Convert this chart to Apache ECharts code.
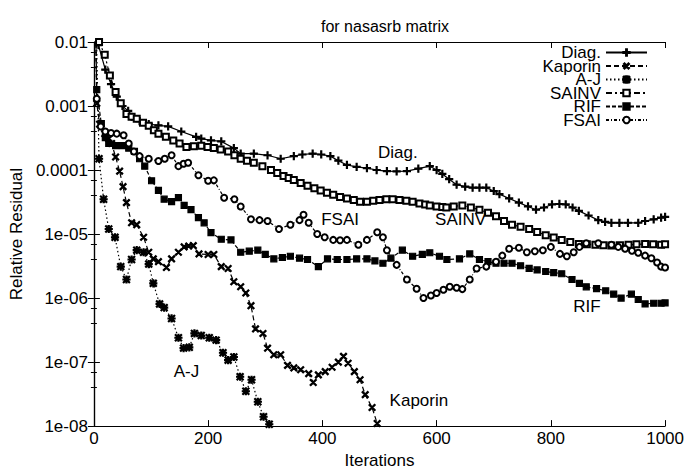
<!DOCTYPE html>
<html><head><meta charset="utf-8">
<script src="https://cdn.jsdelivr.net/npm/echarts/dist/echarts.min.js"></script>
<style>html,body{margin:0;padding:0;background:#fff}#c{width:687px;height:474px}</style>
</head><body><div id="c"></div>
<script>
// ---------- data ----------
const seriesNames = ['Diag.', 'Kaporin', 'A-J', 'SAINV', 'RIF', 'FSAI'];

const diagIter = [0, 8, 20, 30, 40, 50, 60, 66, 80, 96, 113, 130, 153, 179, 188, 205, 223, 245, 257, 280, 304, 327, 350, 365, 383, 398, 414, 428, 443, 460, 478, 495, 513, 530, 548, 568, 588, 600, 610, 622, 635, 650, 663, 675, 687, 700, 710, 727, 744, 760, 774, 788, 802, 815, 826, 838, 849, 866, 883, 895, 906, 920, 935, 953, 965, 980, 993, 1000];
const diagVal = [1, 8.9e-3, 3.7e-3, 2.2e-3, 1.4e-3, 1.0e-3, 8.4e-4, 6.8e-4, 5.8e-4, 5.2e-4, 5.0e-4, 4.8e-4, 4.0e-4, 3.3e-4, 3.1e-4, 2.9e-4, 2.8e-4, 2.2e-4, 1.8e-4, 1.8e-4, 1.7e-4, 1.5e-4, 1.65e-4, 1.75e-4, 1.8e-4, 1.75e-4, 1.65e-4, 1.4e-4, 1.2e-4, 1.12e-4, 1.07e-4, 1.0e-4, 9.6e-5, 9.5e-5, 9.6e-5, 1.05e-4, 1.15e-4, 1.0e-4, 8.7e-5, 7.2e-5, 5.9e-5, 5.5e-5, 5.3e-5, 5.3e-5, 5.3e-5, 4.7e-5, 4.2e-5, 3.6e-5, 3.1e-5, 2.7e-5, 2.4e-5, 2.6e-5, 2.9e-5, 2.95e-5, 2.9e-5, 2.6e-5, 2.3e-5, 1.95e-5, 1.65e-5, 1.55e-5, 1.5e-5, 1.5e-5, 1.5e-5, 1.5e-5, 1.6e-5, 1.7e-5, 1.8e-5, 1.85e-5];

const kapIter = [0, 5, 10, 19, 26, 31, 38, 45, 51, 57, 66, 75, 87, 96, 104, 113, 127, 136, 148, 158, 166, 174, 184, 200, 210, 223, 235, 245, 257, 266, 275, 283, 296, 304, 315, 327, 339, 350, 362, 376, 384, 393, 405, 417, 428, 437, 445, 456, 466, 475, 487, 496, 505];
const kapVal = [1, 1.1e-3, 5.2e-4, 3.7e-4, 3.1e-4, 2.6e-4, 1.6e-4, 9.6e-5, 5.5e-5, 3.1e-5, 1.5e-5, 1.4e-5, 8.9e-6, 5.2e-6, 4.1e-6, 3.7e-6, 3.0e-6, 4.1e-6, 5.2e-6, 6.3e-6, 6.5e-6, 6.6e-6, 4.9e-6, 4.8e-6, 4.8e-6, 3.1e-6, 2.9e-6, 1.8e-6, 1.5e-6, 1.2e-6, 7.6e-7, 3.3e-7, 2.8e-7, 1.65e-7, 1.3e-7, 1.3e-7, 8.9e-8, 8.1e-8, 7.6e-8, 6.6e-8, 4.8e-8, 6.3e-8, 7.1e-8, 8.3e-8, 1.0e-7, 1.23e-7, 9.6e-8, 7.1e-8, 5.3e-8, 3.1e-8, 1.95e-8, 1.1e-8, 6e-9];

const ajIter = [0, 9, 17, 26, 37, 47, 57, 66, 75, 87, 96, 104, 115, 123, 136, 148, 157, 167, 176, 188, 202, 214, 226, 235, 245, 256, 266, 276, 287, 297, 307, 317];
const ajVal = [1, 1.5e-4, 3.5e-5, 1.2e-5, 8.9e-6, 3.1e-6, 1.95e-6, 4.0e-6, 5.6e-6, 5.2e-6, 3.4e-6, 1.7e-6, 8.1e-7, 7.1e-7, 4.8e-7, 2.4e-7, 1.65e-7, 1.7e-7, 2.8e-7, 2.6e-7, 2.4e-7, 2.2e-7, 1.4e-7, 1.07e-7, 1.2e-7, 5.9e-8, 3.5e-8, 5.3e-8, 2.4e-8, 1.4e-8, 1.07e-8, 6e-9];

const sainvIter = [0, 9, 19, 28, 38, 47, 57, 66, 75, 86, 96, 105, 113, 126, 139, 150, 162, 175, 188, 199, 210, 222, 235, 246, 257, 268, 280, 295, 310, 321, 332, 341, 350, 362, 374, 386, 397, 408, 419, 431, 443, 455, 466, 478, 489, 500, 512, 523, 535, 547, 558, 570, 580, 588, 600, 610, 617, 630, 645, 660, 675, 690, 704, 718, 732, 747, 762, 776, 791, 805, 819, 834, 849, 863, 878, 892, 906, 921, 936, 950, 965, 979, 993, 1000];
const sainvVal = [1, 1.0e-2, 6.3e-3, 3.0e-3, 1.65e-3, 1.1e-3, 7.5e-4, 6.8e-4, 6.3e-4, 5.5e-4, 4.9e-4, 4.2e-4, 3.7e-4, 3.3e-4, 2.9e-4, 2.6e-4, 2.3e-4, 2.35e-4, 2.4e-4, 2.3e-4, 2.2e-4, 2.1e-4, 1.95e-4, 1.7e-4, 1.5e-4, 1.4e-4, 1.3e-4, 1.15e-4, 1.0e-4, 9.0e-5, 8.1e-5, 7.5e-5, 7.0e-5, 6.3e-5, 5.7e-5, 5.2e-5, 4.8e-5, 4.4e-5, 4.1e-5, 3.8e-5, 3.6e-5, 3.4e-5, 3.2e-5, 3.2e-5, 3.3e-5, 3.4e-5, 3.5e-5, 3.5e-5, 3.4e-5, 3.3e-5, 3.2e-5, 3.0e-5, 2.9e-5, 2.8e-5, 2.7e-5, 2.65e-5, 2.6e-5, 2.7e-5, 2.8e-5, 2.6e-5, 2.4e-5, 2.15e-5, 1.9e-5, 1.6e-5, 1.4e-5, 1.3e-5, 1.2e-5, 1.08e-5, 9.6e-6, 8.8e-6, 8.1e-6, 7.5e-6, 7.0e-6, 6.9e-6, 6.8e-6, 6.7e-6, 6.6e-6, 6.7e-6, 6.8e-6, 6.9e-6, 7.0e-6, 6.9e-6, 6.8e-6, 6.9e-6];

const rifIter = [0, 5, 13, 20, 26, 38, 50, 61, 71, 80, 89, 101, 113, 123, 136, 148, 158, 170, 183, 193, 205, 223, 240, 257, 272, 287, 300, 315, 330, 344, 360, 374, 393, 409, 426, 443, 460, 478, 492, 506, 520, 540, 558, 575, 588, 605, 618, 640, 658, 675, 690, 704, 718, 732, 747, 762, 776, 791, 805, 819, 837, 850, 862, 880, 896, 910, 923, 941, 953, 965, 980, 993, 1000];
const rifVal = [1, 1.8e-3, 5.3e-4, 3.2e-4, 2.6e-4, 2.4e-4, 2.4e-4, 2.2e-4, 1.95e-4, 1.5e-4, 1.15e-4, 6.8e-5, 4.8e-5, 3.5e-5, 3.2e-5, 3.7e-5, 2.8e-5, 2.4e-5, 1.8e-5, 1.5e-5, 1.05e-5, 8.3e-6, 8.1e-6, 5.2e-6, 5.4e-6, 5.6e-6, 4.8e-6, 4.1e-6, 4.3e-6, 4.5e-6, 4.2e-6, 4.0e-6, 3.1e-6, 4.1e-6, 4.0e-6, 4.0e-6, 4.1e-6, 4.1e-6, 3.8e-6, 3.5e-6, 4.2e-6, 5.6e-6, 4.5e-6, 4.8e-6, 5.1e-6, 4.5e-6, 4.0e-6, 4.1e-6, 4.9e-6, 4.0e-6, 3.7e-6, 3.5e-6, 3.5e-6, 3.5e-6, 3.2e-6, 2.9e-6, 2.75e-6, 2.6e-6, 2.5e-6, 2.4e-6, 1.95e-6, 1.7e-6, 1.5e-6, 1.4e-6, 1.3e-6, 1.15e-6, 1.0e-6, 1.15e-6, 9.5e-7, 8.1e-7, 8.3e-7, 8.3e-7, 8.4e-7];

const fsaiIter = [0, 5, 12, 20, 30, 40, 52, 61, 70, 80, 96, 113, 124, 136, 148, 157, 165, 183, 200, 210, 228, 246, 257, 275, 290, 304, 324, 344, 360, 367, 376, 391, 404, 419, 431, 443, 463, 478, 496, 506, 513, 530, 548, 565, 577, 590, 600, 612, 623, 635, 645, 658, 670, 687, 704, 715, 727, 744, 758, 772, 786, 800, 816, 828, 840, 850, 862, 883, 906, 918, 930, 942, 953, 965, 976, 986, 993, 1000];
const fsaiVal = [1, 1.3e-3, 4.8e-4, 4.0e-4, 3.8e-4, 3.7e-4, 3.5e-4, 2.6e-4, 1.95e-4, 1.65e-4, 1.5e-4, 1.38e-4, 1.5e-4, 1.7e-4, 1.15e-4, 1.25e-4, 1.3e-4, 8.3e-5, 6.8e-5, 6.9e-5, 3.7e-5, 3.5e-5, 2.7e-5, 1.7e-5, 1.65e-5, 1.6e-5, 1.2e-5, 1.4e-5, 1.65e-5, 2.0e-5, 1.5e-5, 1.0e-5, 8.9e-6, 8.1e-6, 8.0e-6, 8.1e-6, 6.8e-6, 8.1e-6, 1.07e-5, 8.9e-6, 5.6e-6, 3.3e-6, 1.95e-6, 1.4e-6, 1.0e-6, 1.1e-6, 1.2e-6, 1.35e-6, 1.5e-6, 1.45e-6, 1.38e-6, 1.95e-6, 2.9e-6, 3.1e-6, 3.7e-6, 4.6e-6, 5.9e-6, 6.1e-6, 5.2e-6, 5.4e-6, 5.6e-6, 6.3e-6, 4.9e-6, 4.5e-6, 5.2e-6, 6.3e-6, 7.2e-6, 7.2e-6, 6.8e-6, 6.3e-6, 5.9e-6, 5.5e-6, 5.1e-6, 4.6e-6, 4.2e-6, 3.6e-6, 3.1e-6, 3.0e-6];

const xTicks = [0, 200, 400, 600, 800, 1000];
const yTickExponents = [-8, -7, -6, -5, -4, -3, -2];
const yTickLabels = ['1e-08', '1e-07', '1e-06', '1e-05', '0.0001', '0.001', '0.01'];

// in-plot curve labels: text and [iteration, residual] anchor
const curveLabelTexts = ['Diag.', 'SAINV', 'FSAI', 'RIF', 'A-J', 'Kaporin'];
const curveLabelAnchors = [[532, 1.9e-4], [642, 1.66e-5], [431, 1.66e-5], [863, 7.3e-7], [162, 7.2e-8], [569, 2.5e-8]];

// ---------- chart ----------
const FONT = 'Liberation Sans';
const pair = (xs, ys) => xs.map((x, i) => [x, ys[i]]);
const PLUS = 'path://M4.3,0h1.4v10h-1.4z M0,4.3h10v1.4h-10z';
const STAR = 'path://M4.3,0h1.4v10h-1.4z M0,4.3h10v1.4h-10z M1.2,0.2L9.8,8.8L8.8,9.8L0.2,1.2z M8.8,0.2L9.8,1.2L1.2,9.8L0.2,8.8z';

const styles = [
  {symbol: PLUS, size: 7, rot: 0, dash: 'solid'},
  {symbol: PLUS, size: 8, rot: 45, dash: [5, 3]},
  {symbol: STAR, size: 7, rot: 0, dash: [1.5, 2.5]},
  {symbol: 'emptyRect', size: 6, rot: 0, dash: [6, 3, 2, 3]},
  {symbol: 'rect', size: 6, rot: 0, dash: [4, 2]},
  {symbol: 'emptyCircle', size: 6, rot: 0, dash: [3, 2, 1, 2]}
];
const datas = [pair(diagIter, diagVal), pair(kapIter, kapVal), pair(ajIter, ajVal),
               pair(sainvIter, sainvVal), pair(rifIter, rifVal), pair(fsaiIter, fsaiVal)];

const series = seriesNames.map((n, i) => ({
  name: n, type: 'line', data: datas[i], xAxisIndex: 0, yAxisIndex: 0,
  symbol: styles[i].symbol, symbolSize: styles[i].size, symbolRotate: styles[i].rot,
  showAllSymbol: true, clip: true, animation: false,
  lineStyle: {color: '#000', width: 1.2, type: styles[i].dash},
  itemStyle: {color: '#000', borderColor: '#000', borderWidth: 1.2}
}));

const expLabel = v => {
  const e = Math.round(Math.log10(v));
  const k = yTickExponents.indexOf(e);
  return k >= 0 ? yTickLabels[k] : '';
};

const axisCommon = {
  axisLine: {show: true, lineStyle: {color: '#000', width: 1.2}},
  splitLine: {show: false}
};

const chart = echarts.init(document.getElementById('c'), null, {renderer: 'svg'});
chart.setOption({
  backgroundColor: '#fff',
  animation: false,
  title: {text: 'for nasasrb matrix', left: 380, top: 13, textAlign: 'center',
    textStyle: {fontFamily: FONT, fontSize: 16, fontWeight: 'normal', color: '#000'}},
  grid: {left: 92, right: 20, top: 42, bottom: 42, containLabel: false},
  legend: {
    data: seriesNames, orient: 'vertical', right: 39, top: 44, align: 'right',
    itemWidth: 41, itemHeight: 8, itemGap: -3.5, padding: 0,
    textStyle: {fontFamily: FONT, fontSize: 17, color: '#000'}
  },
  xAxis: [
    Object.assign({type: 'value', position: 'bottom', min: 0, max: 1000, interval: 200,
      name: 'Iterations', nameLocation: 'middle', nameGap: 25,
      nameTextStyle: {fontFamily: FONT, fontSize: 17, color: '#000'},
      axisTick: {show: true, inside: true, length: 6, lineStyle: {color: '#000'}},
      axisLabel: {fontFamily: FONT, fontSize: 17, color: '#000', margin: 4,
        formatter: v => (xTicks.indexOf(v) >= 0 ? String(v) : '')}}, axisCommon),
    Object.assign({type: 'value', position: 'top', min: 0, max: 1000, interval: 200,
      axisTick: {show: true, inside: true, length: 6, lineStyle: {color: '#000'}},
      axisLabel: {show: false}}, axisCommon)
  ],
  yAxis: [
    Object.assign({type: 'log', logBase: 10, position: 'left', min: 1e-8, max: 1e-2, interval: 1,
      name: 'Relative Residual', nameLocation: 'middle', nameGap: 62,
      nameTextStyle: {fontFamily: FONT, fontSize: 17, color: '#000'},
      axisTick: {show: true, inside: true, length: 6, lineStyle: {color: '#000'}},
      minorTick: {show: true, splitNumber: 3, length: 3, lineStyle: {color: '#000'}},
      axisLabel: {fontFamily: FONT, fontSize: 17, color: '#000', margin: 6, formatter: expLabel}}, axisCommon),
    Object.assign({type: 'log', logBase: 10, position: 'right', min: 1e-8, max: 1e-2, interval: 1,
      axisTick: {show: true, inside: true, length: 6, lineStyle: {color: '#000'}},
      minorTick: {show: true, splitNumber: 3, length: 3, lineStyle: {color: '#000'}},
      axisLabel: {show: false}}, axisCommon)
  ],
  series: series
});

const graphics = curveLabelTexts.map((t, i) => {
  const p = chart.convertToPixel({xAxisIndex: 0, yAxisIndex: 0}, curveLabelAnchors[i]);
  return {type: 'text', x: p[0], y: p[1], z: 100,
    style: {text: t, fontFamily: FONT, fontSize: 17, fill: '#000', align: 'center', verticalAlign: 'middle'}};
});
chart.setOption({graphic: graphics});
</script>
</body></html>
